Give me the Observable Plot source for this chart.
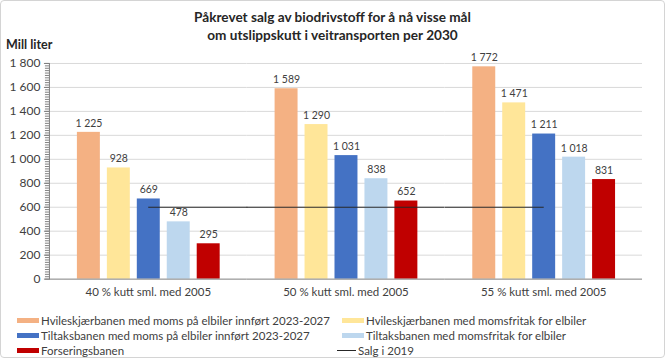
<!DOCTYPE html>
<html>
<head>
<meta charset="utf-8">
<script src="https://cdn.jsdelivr.net/npm/d3@7"></script>
<script src="https://cdn.jsdelivr.net/npm/@observablehq/plot@0.6"></script>
<style>
  html, body { margin: 0; padding: 0; background: #fff; }
  #wrap { position: relative; width: 665px; height: 358px; box-sizing: border-box; border: 1px solid #d4d4d4; border-radius: 4px; font-family: Lato, "Open Sans", sans-serif; color: #404040; overflow: hidden; }
  #title { position: absolute; left: 0; top: 7px; width: 663px; text-align: center; font-weight: bold; font-size: 13.6px; line-height: 18px; color: #262626; }
  #ylabel { position: absolute; left: 5px; top: 36px; font-weight: bold; font-size: 12.5px; color: #262626; }
  #chart { position: absolute; left: -1px; top: 39px; }
  #legend { position: absolute; left: 0; top: 312px; width: 663px; font-size: 11.5px; }
  .item { position: absolute; white-space: nowrap; display: flex; align-items: center; height: 15px; }
  .sw { display: inline-block; width: 22px; height: 5px; margin-right: 2px; }
  .ln { display: inline-block; width: 19px; height: 0; border-top: 1px solid #262626; margin-right: 2px; }
</style>
</head>
<body>
<div id="wrap">
  <div id="title"></div>
  <div id="ylabel"></div>
  <div id="chart"></div>
  <div id="legend"></div>
</div>
<script>
const titleLines = ["Påkrevet salg av biodrivstoff for å nå visse mål", "om utslippskutt i veitransporten per 2030"];
const yLabel = "Mill liter";
const groups = ["40 % kutt sml. med 2005", "50 % kutt sml. med 2005", "55 % kutt sml. med 2005"];
const series = [
  "Hvileskjærbanen med moms på elbiler innført 2023-2027",
  "Hvileskjærbanen med momsfritak for elbiler",
  "Tiltaksbanen med moms på elbiler innført 2023-2027",
  "Tiltaksbanen med momsfritak for elbiler",
  "Forseringsbanen"
];
const colors = ["#F4B183", "#FFE699", "#4472C4", "#BDD7EE", "#C00000"];
const values40 = [1225, 928, 669, 478, 295];
const values50 = [1589, 1290, 1031, 838, 652];
const values55 = [1772, 1471, 1211, 1018, 831];
const salgLabel = "Salg i 2019";
const salg2019 = 600;
const yTicks = [0, 200, 400, 600, 800, 1000, 1200, 1400, 1600, 1800];
const yMinorStep = 20;

const fmt = d3.formatLocale({decimal: ",", thousands: "\u00a0", grouping: [3]}).format(",d");

document.getElementById("title").innerHTML = titleLines.join("<br>");
document.getElementById("ylabel").textContent = yLabel;

const valueSets = [values40, values50, values55];
const data = groups.flatMap((g, gi) => series.map((s, si) => ({group: g, series: s, value: valueSets[gi][si]})));
const minorTicks = d3.range(yTicks[0], yTicks[yTicks.length - 1] + 1, yMinorStep);

const W = 665, H = 262, mL = 48, mR = 21, mT = 23, mB = 23;
const pInner = 0.24, pOuter = 0.92;
const facetW = (W - mL - mR) / groups.length;
const step = facetW / (series.length - pInner + 2 * pOuter);
const bw = step * (1 - pInner);
const outer = step * pOuter;
const first = series[0], last = series[series.length - 1];
const mid = series[Math.floor(series.length / 2)];

const chart = Plot.plot({
  width: W, height: H,
  marginTop: mT, marginBottom: mB, marginLeft: mL, marginRight: mR,
  style: {fontFamily: "Lato, 'Open Sans', sans-serif", color: "#404040", background: "transparent"},
  fx: {domain: groups, padding: 0, label: null},
  x: {domain: series, paddingInner: pInner, paddingOuter: pOuter, axis: null},
  y: {domain: [0, 1800], axis: null},
  color: {domain: series, range: colors},
  marks: [
    Plot.gridY({ticks: yTicks.filter(d => d > 0), stroke: "#d9d9d9", strokeOpacity: 1}),
    Plot.barY(data, {fx: "group", x: "series", y: "value", fill: "series"}),
    Plot.text(data, {fx: "group", x: "series", y: "value", text: d => fmt(d.value), dy: -9, fontSize: 10.5, fill: "#404040"}),
    Plot.ruleY([0], {stroke: "#7f7f7f"}),
    Plot.ruleY([{g: groups[0], a: mid, b: last, v: salg2019}], {fx: "g", y: "v", x1: "a", x2: "b", insetLeft: bw / 2, insetRight: -outer, stroke: "#262626"}),
    Plot.ruleY([{g: groups[1], v: salg2019}], {fx: "g", y: "v", stroke: "#262626"}),
    Plot.ruleY([{g: groups[2], a: first, b: mid, v: salg2019}], {fx: "g", y: "v", x1: "a", x2: "b", insetLeft: -outer, insetRight: bw / 2, stroke: "#262626"}),
    Plot.axisY({ticks: yTicks, tickFormat: fmt, tickSize: 5, tickPadding: 4, label: null, fontSize: 12, stroke: "#7f7f7f", fill: "#404040"}),
    Plot.axisY({ticks: minorTicks, tickFormat: () => "", tickSize: 4, label: null, stroke: "#7f7f7f"}),
    Plot.frame({anchor: "left", fx: [groups[0]], stroke: "#7f7f7f"}),
    Plot.frame({anchor: "right", fx: groups, facet: "auto", strokeOpacity: 0}),
    Plot.axisFx({anchor: "bottom", tickSize: 0, tickPadding: 9, label: null, fontSize: 11.5, fill: "#404040"})
  ]
});
document.getElementById("chart").appendChild(chart);

// Legend
const legend = document.getElementById("legend");
const colX = [16, 341];
const rowY = [0, 15, 30];
const items = series.map((s, i) => ({label: s, color: colors[i], type: "sw"}));
items.push({label: salgLabel, type: "ln"});
items.forEach((it, i) => {
  const col = i % 2, row = Math.floor(i / 2);
  const div = document.createElement("div");
  div.className = "item";
  div.style.left = (colX[col] - (it.type === "ln" ? 5 : 0)) + "px";
  div.style.top = rowY[row] + "px";
  const sw = document.createElement("span");
  sw.className = it.type;
  if (it.type === "sw") sw.style.background = it.color;
  div.appendChild(sw);
  const t = document.createElement("span");
  t.textContent = it.label;
  div.appendChild(t);
  legend.appendChild(div);
});
</script>
</body>
</html>
